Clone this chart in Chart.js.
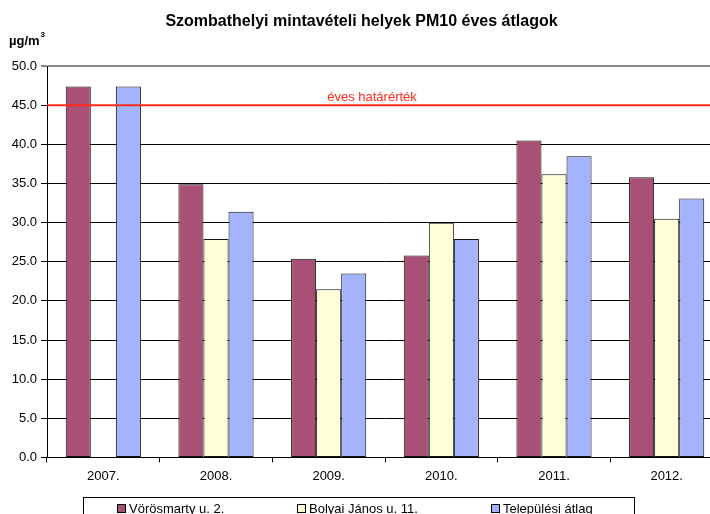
<!DOCTYPE html>
<html>
<head>
<meta charset="utf-8">
<script src="https://cdn.jsdelivr.net/npm/chart.js@4"></script>
<style>
	html, body { margin: 0; padding: 0; overflow: hidden; background: #fff; }
	#wrap { position: absolute; left: 0; top: 0; width: 725px; height: 514px; }
</style>
</head>
<body>
<div id="wrap"><canvas id="chart"></canvas></div>
<script>
const years = ["2007.", "2008.", "2009.", "2010.", "2011.", "2012."]
const vorosmarty = [47.4, 34.9, 25.4, 25.8, 40.5, 35.8]
const bolyai = [null, 27.9, 21.5, 30.0, 36.2, 30.5]
const telepulesi = [47.4, 31.4, 23.5, 27.9, 38.5, 33.1]
const limitValue = 45
const limitLabel = "éves határérték"
const unitLabel = "µg/m"

const FONT = "'Liberation Sans', Arial, sans-serif"

function makeDataset(label, data, color) {
	return {
		label,
		data,
		backgroundColor: color,
		borderColor: "#111",
		borderWidth: 1,
		borderSkipped: false,
		categoryPercentage: 0.667,
		barPercentage: 1,
	}
}

// limit line, unit label and the framed legend at the bottom
const extras = {
	id: "extras",
	afterDatasetsDraw(chart) {
		const { ctx, chartArea, scales } = chart
		const y = scales.y.getPixelForValue(limitValue)
		ctx.save()
		ctx.strokeStyle = "#ff2a1a"
		ctx.lineWidth = 2
		ctx.beginPath()
		ctx.moveTo(chartArea.left, y)
		ctx.lineTo(chartArea.right, y)
		ctx.stroke()
		ctx.fillStyle = "#ff2a1a"
		ctx.font = "13px " + FONT
		ctx.textAlign = "center"
		ctx.textBaseline = "alphabetic"
		ctx.fillText(limitLabel, 372, y - 4)
		ctx.restore()
	},
	afterDraw(chart) {
		const { ctx } = chart
		ctx.save()
		ctx.fillStyle = "#000"
		ctx.font = "bold 13px " + FONT
		ctx.textBaseline = "alphabetic"
		ctx.fillText(unitLabel, 9, 45)
		const w = ctx.measureText(unitLabel).width
		ctx.font = "bold 8px " + FONT
		ctx.fillText("3", 9 + w + 1, 37)

		ctx.strokeStyle = "#000"
		ctx.lineWidth = 1
		ctx.strokeRect(83.5, 497.5, 551, 30)

		ctx.font = "13px " + FONT
		ctx.textBaseline = "middle"
		const items = chart.data.datasets.map((ds) => ({
			label: ds.label,
			color: ds.backgroundColor,
			width: 12 + ctx.measureText(ds.label).width,
		}))
		const gap = 73
		let x = 117
		items.forEach((it) => {
			ctx.fillStyle = it.color
			ctx.fillRect(x, 504, 9, 9)
			ctx.strokeStyle = "#000"
			ctx.strokeRect(x + 0.5, 504.5, 8, 8)
			ctx.fillStyle = "#000"
			ctx.fillText(it.label, x + 12, 509)
			x = Math.round(x + it.width + gap)
		})
		ctx.restore()
	},
}

new Chart(document.getElementById("chart"), {
	type: "bar",
	data: {
		labels: years,
		datasets: [
			makeDataset("Vörösmarty u. 2.", vorosmarty, "#a85075"),
			makeDataset("Bolyai János u. 11.", bolyai, "#fffcd8"),
			makeDataset("Települési átlag", telepulesi, "#a4b3fb"),
		],
	},
	options: {
		responsive: true,
		maintainAspectRatio: false,
		animation: false,
		layout: { padding: { left: 0, right: 2, top: 0, bottom: 24 } },
		plugins: {
			title: {
				display: true,
				text: "Szombathelyi mintavételi helyek PM10 éves átlagok",
				color: "#000",
				font: { family: FONT, size: 16, weight: "bold" },
				padding: { top: 12, bottom: 35 },
			},
			legend: { display: false },
			tooltip: { enabled: false },
		},
		scales: {
			x: {
				grid: {
					offset: true,
					drawOnChartArea: false,
					drawTicks: true,
					tickLength: 5,
					color: "#000",
				},
				border: { color: "#000" },
				ticks: { color: "#000", font: { family: FONT, size: 13 }, padding: 6 },
			},
			y: {
				min: 0,
				max: 50,
				afterFit(scale) {
					scale.width = 47
				},
				ticks: {
					stepSize: 5,
					color: "#000",
					font: { family: FONT, size: 13 },
					padding: 4,
					callback: (v) => v.toFixed(1),
				},
				grid: {
					color: (c) => (c.tick && c.tick.value === 50 ? "#888" : "#000"),
					lineWidth: (c) => (c.tick && c.tick.value === 50 ? 2 : 1),
					tickLength: 6,
				},
				border: { color: "#000" },
			},
		},
	},
	plugins: [extras],
})
</script>
</body>
</html>
